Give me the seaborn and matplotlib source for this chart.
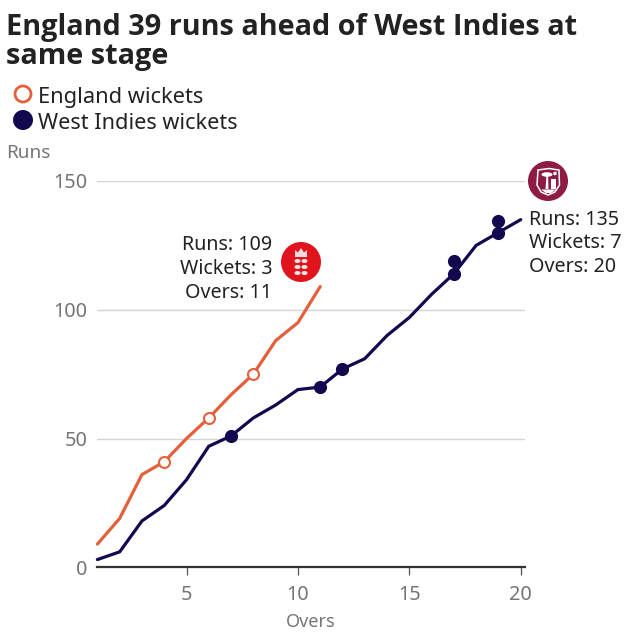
import matplotlib
matplotlib.use("Agg")
import matplotlib.pyplot as plt
from matplotlib.patches import Circle, Rectangle, Ellipse, Polygon
import pandas as pd
import seaborn as sns

england_runs = [9, 19, 36, 41, 50, 58, 67, 75, 88, 95, 109]
windies_runs = [3, 6, 18, 24, 34, 47, 51, 58, 63, 69, 70, 77, 81, 90, 97, 106, 114, 125, 130, 135]
england_wkt_overs = [4, 6, 8]
england_wkt_runs = [41, 58, 75]
windies_wkt_overs = [7, 11, 12, 17, 17, 19, 19]
windies_wkt_runs = [51, 70, 77, 114, 119, 130, 134.5]
x_ticks = [5, 10, 15, 20]
y_ticks = [0, 50, 100, 150]
title_text = "England 39 runs ahead of West Indies at\nsame stage"
ENG = "#e4603a"
WI = "#12084f"
INK = "#222222"
GREY = "#757575"

sns.set_theme(style="white")
plt.rcParams["font.family"] = ["Noto Sans", "DejaVu Sans"]

W = H = 640
PX = 22.28
fig = plt.figure(figsize=(6.4, 6.4), dpi=100, facecolor="white")
ax = fig.add_axes([97.4 / W, 1 - 567.3 / H, (525 - 97.4) / W, (567.3 - 181) / H])

eng = pd.DataFrame({"over": range(1, len(england_runs) + 1), "runs": england_runs})
wi = pd.DataFrame({"over": range(1, len(windies_runs) + 1), "runs": windies_runs})
sns.lineplot(data=eng, x="over", y="runs", color=ENG, lw=2.3, ax=ax, solid_joinstyle="miter", clip_on=False)
sns.lineplot(data=wi, x="over", y="runs", color=WI, lw=2.3, ax=ax, solid_joinstyle="miter", clip_on=False)
sns.scatterplot(x=england_wkt_overs, y=england_wkt_runs, s=62, color="white", edgecolor=ENG,
                linewidth=1.5, ax=ax, zorder=5, clip_on=False)
sns.scatterplot(x=windies_wkt_overs, y=windies_wkt_runs, s=90, color=WI, edgecolor=WI,
                linewidth=0, ax=ax, zorder=5, clip_on=False)

ax.set_xlim(1, 20 + 4.3 / PX)
ax.set_ylim(0, 150)
ax.set_xticks(x_ticks)
ax.set_yticks(y_ticks)
ax.set_xlabel("")
ax.set_ylabel("")
ax.grid(axis="y", color="#d4d4d8", lw=1)
ax.set_axisbelow(True)
sns.despine(ax=ax, left=True, top=True, right=True)
ax.spines["bottom"].set_color("#333333")
ax.spines["bottom"].set_linewidth(1.6)
ax.tick_params(axis="x", bottom=True, length=5.5, width=0.9, color="#555555",
               labelsize=14.3, labelcolor=GREY, pad=7)
ax.tick_params(axis="y", left=False, length=0, labelsize=14.3, labelcolor=GREY, pad=7)

ov = fig.add_axes([0, 0, 1, 1], facecolor="none")
ov.set_xlim(0, W)
ov.set_ylim(H, 0)
ov.axis("off")
ov.set_zorder(10)

ov.text(6, 64, title_text, fontsize=20.8, family="Open Sans", fontweight="bold", color=INK,
        va="baseline", ha="left", linespacing=1.0)
ov.add_patch(Circle((23, 94), 8, fc="white", ec=ENG, lw=2))
ov.add_patch(Circle((23, 120), 10, fc=WI, ec="none"))
ov.text(38, 103, "England wickets", fontsize=15.7, color=INK, va="baseline")
ov.text(38, 129, "West Indies wickets", fontsize=15.6, color=INK, va="baseline")
ov.text(6, 158, "Runs", fontsize=13.6, color=GREY, va="baseline")
ov.text(311, 627, "Overs", fontsize=13, color=GREY, va="baseline", ha="center")

for y, s in zip([250, 274, 298], ["Runs: 109", "Wickets: 3", "Overs: 11"]):
    ov.text(272, y, s, fontsize=14.2, color=INK, va="baseline", ha="right")
for y, s in zip([225, 248, 272], ["Runs: 135", "Wickets: 7", "Overs: 20"]):
    ov.text(529, y, s, fontsize=14.2, color=INK, va="baseline", ha="left")

# England badge: crown above three rows of lions
ov.add_patch(Circle((301, 262), 20, fc="#e1141e", ec="none"))
ov.add_patch(Polygon([(295, 257), (295, 250), (298, 252.5), (301, 248), (304, 252.5), (307, 250), (307, 257)],
                     fc="#f8dcdc", ec="none"))
for y in [261, 267, 273]:
    for dx in [-3.5, 3.5]:
        ov.add_patch(Ellipse((301 + dx, y), 6, 4, fc="#fbe6e6", ec="none"))

# West Indies badge: shield, palm, stumps, sun
ov.add_patch(Circle((548, 181), 20, fc="#8e1b43", ec="none"))
ov.add_patch(Polygon([(538, 170), (549, 168.5), (559, 170), (559.5, 185), (555, 192), (548, 195), (541, 192), (537, 185)],
                     fc="#8e1b43", ec="white", lw=1.1))
ov.add_patch(Polygon([(545.5, 189), (546.5, 175), (548, 175), (548.5, 189)], fc="white", ec="none"))
ov.add_patch(Ellipse((547, 174.5), 11, 4.5, fc="white", ec="none"))
ov.add_patch(Rectangle((550.5, 179), 5.5, 9.5, fc="white", ec="none"))
ov.add_patch(Circle((555, 173.5), 1.8, fc="white", ec="none"))
ov.add_patch(Polygon([(541, 189.5), (556, 189.5), (551, 193), (546, 193)], fc="white", ec="none"))

fig.savefig("out.png", dpi=100, facecolor="white")
